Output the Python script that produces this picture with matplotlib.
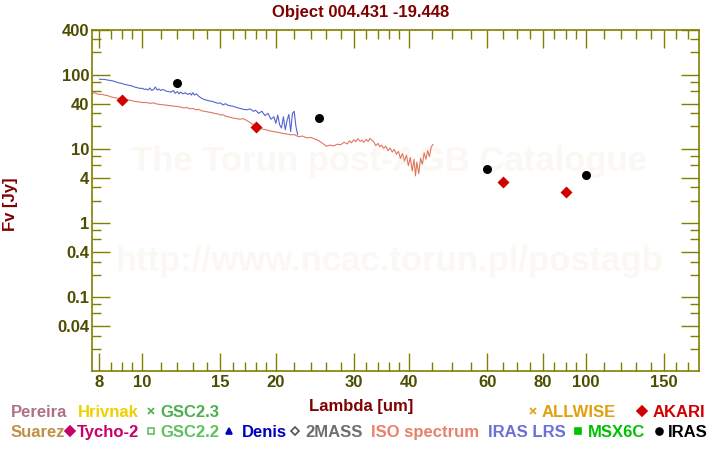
import matplotlib
matplotlib.use("Agg")
import matplotlib.pyplot as plt
from matplotlib.lines import Line2D
from matplotlib.ticker import NullFormatter

plt.rcParams['font.family'] = ['Liberation Sans', 'DejaVu Sans']

# --- photometrie ---
iras_wl = [12, 25, 60, 100]
iras_flux = [76, 26, 5.3, 4.4]
akari_wl = [9, 18, 65, 90]
akari_flux = [46, 19.6, 3.5, 2.6]

# --- spectre ISO ---
iso_wl = [7.70, 7.80, 7.90, 8.00, 8.10, 8.20, 8.35, 8.50, 8.65, 8.80, 9.00, 9.20,
          9.40, 9.60, 9.80, 10.0, 10.2, 10.4, 10.6, 10.8, 11.0, 11.2, 11.4, 11.6,
          11.8, 12.0, 12.2, 12.4, 12.6, 12.8, 13.0, 13.2, 13.4, 13.6, 13.8, 14.0,
          14.2, 14.4, 14.6, 14.8, 15.0, 15.2, 15.4, 15.6, 15.8, 16.0, 16.3, 16.6,
          16.9, 17.2, 17.5, 17.8, 18.0, 18.3, 18.6, 19.0, 19.3, 19.6, 20.0, 20.4,
          20.8, 21.2, 21.6, 22.0, 22.5, 23.0, 23.5, 24.0, 24.5, 25.0, 25.5, 26.0,
          26.5, 27.0, 27.5, 28.0, 28.5, 29.0, 29.3, 29.6, 30.0, 30.3, 30.6, 31.0,
          31.3, 31.6, 32.0, 32.3, 32.6, 33.0, 33.3, 33.6, 34.0, 34.3, 34.6, 35.0,
          35.4, 35.8, 36.2, 36.6, 37.0, 37.4, 37.8, 38.2, 38.6, 39.0, 39.4, 39.8,
          40.2, 40.6, 41.0, 41.3, 41.6, 42.0, 42.4, 42.8, 43.2, 43.6, 44.0, 44.4,
          44.8, 45.2]
iso_flux = [56, 57, 55, 54, 54.5, 53, 52, 50, 49, 48, 47, 45.5,
            45, 43.5, 43, 42, 42, 41, 41.5, 40, 39.5, 39, 38.5, 38,
            37.5, 37, 36.5, 35.5, 36, 34.5, 35, 33.5, 34, 32.5, 32, 31.5,
            31, 30.5, 29.8, 29.5, 28.5, 28.8, 27.5, 27, 26.5, 26, 25.5, 25,
            25.5, 24, 22.5, 21, 20, 19.5, 18.5, 18, 17.5, 17.2, 16.8, 16.5,
            16, 15.8, 15.4, 15.5, 14.5, 14.8, 14, 14.2, 13.5, 12.8, 11.8, 10.8,
            11.2, 10.9, 11.5, 11.3, 12.2, 11.6, 12.8, 12.0, 13.2, 12.4, 13.6, 12.6,
            13.0, 12.2, 13.4, 12.5, 13.8, 12.9, 12.3, 11.0, 11.8, 10.6, 11.2, 10.1,
            10.8, 9.4, 10.2, 9.0, 9.8, 8.4, 9.2, 7.4, 8.6, 6.8, 8.2, 5.9,
            7.6, 5.0, 7.2, 4.3, 6.6, 4.6, 7.4, 6.2, 8.8, 7.2, 9.4, 7.8,
            10.5, 11.4]

# --- spectre IRAS LRS ---
lrs_wl = [8.0, 8.1, 8.2, 8.3, 8.4, 8.5, 8.6, 8.7, 8.8, 8.9, 9.0, 9.1,
          9.2, 9.3, 9.4, 9.5, 9.6, 9.7, 9.8, 9.9, 10.0, 10.1, 10.2, 10.3,
          10.4, 10.5, 10.6, 10.7, 10.8, 10.9, 11.0, 11.1, 11.2, 11.3, 11.45, 11.6,
          11.75, 11.85, 12.0, 12.1, 12.2, 12.35, 12.5, 12.65, 12.8, 12.9, 13.0, 13.1,
          13.25, 13.4, 13.6, 13.8, 14.0, 14.2, 14.4, 14.6, 14.8, 15.0, 15.2, 15.4,
          15.6, 15.8, 16.0, 16.3, 16.6, 16.9, 17.2, 17.5, 17.8, 18.0, 18.3, 18.6,
          18.9, 19.2, 19.5, 19.8, 20.0, 20.2, 20.4, 20.6, 20.8, 21.0, 21.2, 21.4,
          21.6, 21.8, 22.0, 22.2, 22.4]
lrs_flux = [87, 86, 86.5, 85, 84, 83, 82, 80, 78, 77, 76, 74,
            73, 72, 71, 70, 68, 67, 66, 65, 65.5, 63, 64, 62,
            66, 61, 63, 68, 62, 64, 61, 63, 62, 60, 59, 58,
            61, 56, 59, 55, 58, 55, 57, 54, 56, 53, 57, 53,
            55, 51, 48, 46, 45, 44, 43.5, 42, 41, 41.5, 39, 40.5,
            38.5, 38, 37.5, 36, 35, 34, 33.5, 34.5, 32, 33, 30, 32,
            28, 30, 25, 27, 22, 28.5, 21, 19, 27, 18, 24, 29,
            17, 30, 32, 20, 15.5]

# --- axes ---
x_major = [8, 10, 15, 20, 30, 40, 60, 80, 100, 150]
x_minor = [8.5, 9, 9.5, 11, 12, 13, 14, 16, 17, 18, 19, 22, 24, 26, 28,
           32, 34, 36, 38, 45, 50, 55, 65, 70, 75, 85, 90, 95,
           110, 120, 130, 140, 160, 170]
y_major = [0.04, 0.1, 0.4, 1, 4, 10, 40, 100, 400]
y_labels = ["0.04", "0.1", "0.4", "1", "4", "10", "40", "100", "400"]
y_minor = [0.02, 0.03, 0.06, 0.08, 0.2, 0.3, 0.6, 0.8, 2, 3, 6, 8,
           20, 30, 60, 80, 200, 300]

OLIVE = "#808000"
LABEL = "#4d4d00"
MAROON = "#800000"
WM = "#fbf8f4"

fig = plt.figure(figsize=(7.2, 4.5), dpi=100)
ax = fig.add_axes([92 / 720, 79 / 450, 607 / 720, 341 / 450])
ax.set_xscale("log")
ax.set_yscale("log")
ax.set_xlim(7.7, 180)
ax.set_ylim(0.01, 400)

# filigrane
ax.text(0.49, 0.613, "The Torun post-AGB Catalogue", transform=ax.transAxes,
        ha="center", va="center", fontsize=25, fontweight="bold", color=WM, zorder=0)
ax.text(0.49, 0.32, "http://www.ncac.torun.pl/postagb", transform=ax.transAxes,
        ha="center", va="center", fontsize=25, fontweight="bold", color=WM, zorder=0)

ax.plot(iso_wl, iso_flux, color="#e07860", lw=0.8, zorder=2)
ax.plot(lrs_wl, lrs_flux, color="#5464d0", lw=0.8, zorder=2)
ax.plot(akari_wl, akari_flux, "D", color="#d00000", ms=6.5, mec="none", zorder=3)
ax.plot(iras_wl, iras_flux, "o", color="black", ms=6.5, mec="none", zorder=3)

ax.set_xticks(x_major)
ax.set_xticklabels([str(v) for v in x_major])
ax.set_xticks(x_minor, minor=True)
ax.set_yticks(y_major)
ax.set_yticklabels(y_labels)
ax.set_yticks(y_minor, minor=True)
ax.xaxis.set_minor_formatter(NullFormatter())
ax.yaxis.set_minor_formatter(NullFormatter())

ax.tick_params(which="both", direction="in", top=True, right=True,
               color=OLIVE, labelcolor=LABEL, labelsize=12, width=1)
ax.tick_params(which="major", length=13)
ax.tick_params(which="minor", length=6.5)
ax.tick_params(axis="x", pad=3)
ax.tick_params(axis="y", pad=2)
for lbl in ax.get_xticklabels() + ax.get_yticklabels():
    lbl.set_fontweight("bold")
for s in ax.spines.values():
    s.set_color(OLIVE)
    s.set_linewidth(1.2)

# textes
fig.text(361 / 720, 1 - 12 / 450, "Object 004.431 -19.448", ha="center", va="center",
         color=MAROON, fontsize=12, fontweight="bold")
fig.text(10 / 720, 1 - 204 / 450, "Fv [Jy]", rotation=90, ha="center", va="center",
         color=MAROON, fontsize=12, fontweight="bold")
fig.text(361 / 720, 1 - 411 / 450, "Lambda [um]", ha="center", va="baseline",
         color=MAROON, fontsize=12, fontweight="bold")


def leg_text(x, y, s, c):
    fig.text(x / 720, 1 - y / 450, s, ha="left", va="baseline", color=c,
             fontsize=12, fontweight="bold")


def leg_mark(x, y, m, c, size, filled=True):
    fig.add_artist(Line2D([x / 720], [1 - y / 450], marker=m, ms=size,
                          color=c, mfc=c if filled else "none", mew=1.2,
                          ls="none", transform=fig.transFigure))


r1 = 416.7
r2 = 436.7
leg_text(10.7, r1, "Pereira", "#b07088")
leg_text(77.7, r1, "Hrivnak", "#ecd000")
leg_mark(150.7, r1 - 6, "x", "#4caf50", 4.5)
leg_text(160, r1, "GSC2.3", "#4caf50")
leg_mark(533, r1 - 6, "x", "#e0a010", 5)
leg_text(542, r1, "ALLWISE", "#e0a010")
leg_mark(642, r1 - 6, "D", "#d00000", 5)
leg_text(653, r1, "AKARI", "#d00000")

leg_text(10.7, r2, "Suarez", "#c09048")
leg_mark(70, r2 - 6, "D", "#c8006a", 5)
leg_text(76.7, r2, "Tycho-2", "#c8006a")
leg_mark(150.7, r2 - 6, "s", "#60c060", 4.5, filled=False)
leg_text(160, r2, "GSC2.2", "#60c060")
leg_mark(229, r2 - 6, "^", "#0000c0", 5)
leg_text(242, r2, "Denis", "#0000c0")
leg_mark(295, r2 - 6, "D", "#555555", 4.5, filled=False)
leg_text(305, r2, "2MASS", "#6e6e6e")
leg_text(371, r2, "ISO spectrum", "#e8806a")
leg_text(488, r2, "IRAS LRS", "#6a70d8")
leg_mark(578, r2 - 6, "s", "#00c000", 5)
leg_text(588, r2, "MSX6C", "#00c000")
leg_mark(659, r2 - 6, "o", "black", 5)
leg_text(668, r2, "IRAS", "black")

fig.savefig("out.png", dpi=100)
